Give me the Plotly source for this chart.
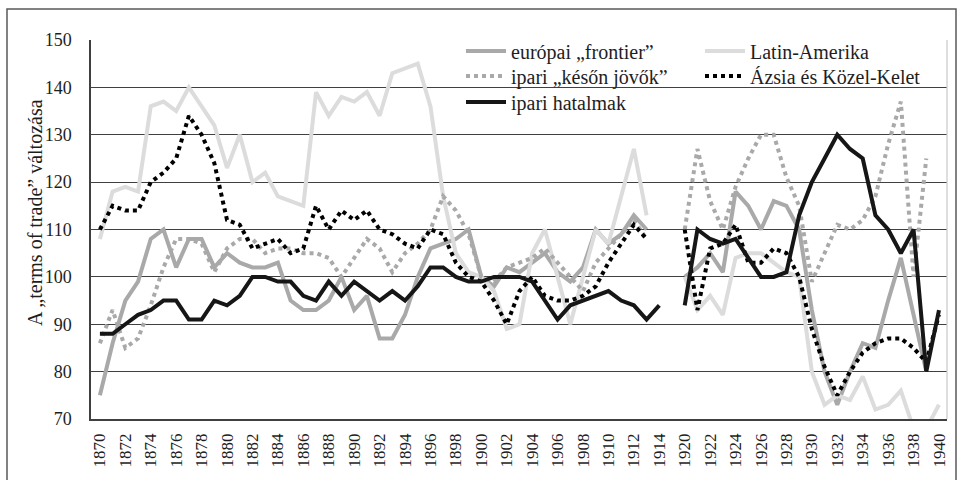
import plotly.graph_objects as go

# ---- categories ----
years_early = [str(y) for y in range(1870, 1915)]
gap_category = ["1915–1919"]
years_late = [str(y) for y in range(1920, 1941)]
categories = years_early + gap_category + years_late

tick_labels = ["1870", "1872", "1874", "1876", "1878", "1880", "1882", "1884", "1886",
               "1888", "1890", "1892", "1894", "1896", "1898", "1900", "1902", "1904",
               "1906", "1908", "1910", "1912", "1914", "1920", "1922", "1924", "1926",
               "1928", "1930", "1932", "1934", "1936", "1938", "1940"]

# ---- series values (1870-1914, then 1920-1940) ----
europai_early = [75, 86, 95, 99, 108, 110, 102, 108, 108, 102,
                 105, 103, 102, 102, 103, 95, 93, 93, 95, 100,
                 93, 96, 87, 87, 92, 100, 106, 107, 108, 110,
                 100, 98, 102, 101, 103, 105, 101, 99, 102, 110,
                 107, 109, 113, 110, None]
europai_late = [100, 102, 105, 101, 118, 115, 110, 116, 115, 110,
                93, 80, 73, 80, 86, 85, 95, 104, 92, 80, None]

latin_early = [108, 118, 119, 118, 136, 137, 135, 140, 136, 132,
               123, 130, 120, 122, 117, 116, 115, 139, 134, 138,
               137, 139, 134, 143, 144, 145, 136, 117, 105, 101,
               100, 97, 89, 90, 105, 110, 100, 90, 100, 110,
               107, 117, 127, 113, None]
latin_late = [100, 93, 96, 92, 104, 105, 105, 103, 101, 100,
              80, 73, 75, 74, 79, 72, 73, 76, 68, 68, 73]

keson_early = [86, 93, 85, 87, 94, 102, 108, 108, 107, 101,
               106, 108, 108, 105, 106, 106, 105, 105, 104, 100,
               104, 108, 106, 101, 105, 107, 110, 117, 114, 109,
               100, 99, 102, 103, 104, 106, 103, 100, 97, 103,
               106, 109, 112, 108, None]
keson_late = [110, 127, 116, 110, 119, 125, 130, 130, 121, 115,
              99, 105, 111, 110, 112, 117, 128, 137, 100, 125, None]

azsia_early = [110, 115, 114, 114, 120, 122, 125, 134, 130, 124,
               112, 111, 106, 107, 108, 105, 106, 115, 110, 114,
               112, 114, 110, 109, 107, 106, 110, 109, 103, 100,
               99, 95, 90, 97, 100, 96, 95, 95, 96, 98,
               103, 107, 111, 108, None]
azsia_late = [110, 93, 106, 107, 111, 103, 103, 106, 105, 100,
              89, 81, 75, 80, 84, 86, 87, 87, 85, 82, 92]

hatalmak_early = [88, 88, 90, 92, 93, 95, 95, 91, 91, 95,
                  94, 96, 100, 100, 99, 99, 96, 95, 99, 96,
                  99, 97, 95, 97, 95, 98, 102, 102, 100, 99,
                  99, 100, 100, 100, 99, 95, 91, 94, 95, 96,
                  97, 95, 94, 91, 94]
hatalmak_late = [94, 110, 108, 107, 108, 104, 100, 100, 101, 113,
                 120, 125, 130, 127, 125, 113, 110, 105, 110, 80, 93]

series = [
    ("európai „frontier”", europai_early, europai_late, "#a9a9a9", "solid"),
    ("Latin-Amerika", latin_early, latin_late, "#dcdcdc", "solid"),
    ("ipari „későn jövők”", keson_early, keson_late, "#a9a9a9", "dot"),
    ("Ázsia és Közel-Kelet", azsia_early, azsia_late, "#000000", "dot"),
    ("ipari hatalmak", hatalmak_early, hatalmak_late, "#161616", "solid"),
]

y_title = "A „terms of trade” változása"

FONT = "Liberation Serif"
# legend grid: (column left px, row centre px) for each series
legend_slots = [(461, 51), (700, 51), (461, 76), (700, 76), (461, 102)]
legend_ids = ["legend", "legend2", "legend3", "legend4", "legend5"]

fig = go.Figure()
for (name, early, late, color, dash), leg in zip(series, legend_ids):
    fig.add_trace(go.Scatter(
        x=categories, y=early + [None] + late, name=name, mode="lines",
        line=dict(color=color, width=4, dash=dash), legend=leg,
        connectgaps=False, hoverinfo="skip"))

PLOT_L, PLOT_T, PLOT_W, PLOT_H = 91, 40, 856, 379
legend_layout = {}
for leg, (lx, ly) in zip(legend_ids, legend_slots):
    legend_layout[leg] = dict(
        orientation="v", xanchor="left", yanchor="middle",
        x=(lx - PLOT_L) / PLOT_W, y=1 - (ly - PLOT_T) / PLOT_H,
        bgcolor="rgba(0,0,0,0)", itemwidth=40,
        font=dict(size=20, family=FONT, color="#1e1e1e"))

fig.update_layout(
    width=958, height=480,
    margin=dict(l=PLOT_L, r=958 - PLOT_L - PLOT_W, t=PLOT_T,
                b=480 - PLOT_T - PLOT_H, autoexpand=False),
    paper_bgcolor="white", plot_bgcolor="white",
    font=dict(family=FONT, color="#1e1e1e", size=18),
    showlegend=True,
    **legend_layout,
    xaxis=dict(type="category", categoryorder="array", categoryarray=categories,
               range=[-0.7, len(categories) - 0.37],
               tickmode="array", tickvals=tick_labels, ticktext=tick_labels,
               tickangle=-90, showgrid=False, showline=True, linecolor="#404040",
               linewidth=1.5, mirror=False, ticks="", ticklabelstandoff=6,
               tickfont=dict(size=17, family=FONT, color="#1e1e1e")),
    yaxis=dict(range=[70, 150], dtick=10, tick0=70, showgrid=True,
               gridcolor="#404040", gridwidth=1.2, showline=True,
               linecolor="#404040", linewidth=1.5, zeroline=False, ticks="",
               ticklabelstandoff=14,
               tickfont=dict(size=18, family=FONT, color="#1e1e1e")),
    annotations=[
        dict(text=y_title, xref="paper", yref="paper",
             x=(35 - PLOT_L) / PLOT_W, y=1 - (213 - PLOT_T) / PLOT_H,
             xanchor="center", yanchor="middle", textangle=-90, showarrow=False,
             font=dict(size=20, family=FONT, color="#1e1e1e")),
    ],
    shapes=[
        dict(type="line", xref="paper", yref="paper", x0=1, x1=1, y0=0, y1=1,
             line=dict(color="#c8c8c8", width=1.2)),
        dict(type="rect", xref="paper", yref="paper",
             x0=(7 - PLOT_L) / PLOT_W, x1=(956 - PLOT_L) / PLOT_W,
             y0=-(481 - PLOT_T - PLOT_H) / PLOT_H, y1=1 + (PLOT_T - 9) / PLOT_H,
             line=dict(color="#595959", width=1.5)),
    ],
)

fig.write_html("out.html", config={"displayModeBar": False},
               post_script="document.body.style.margin='0';document.body.style.padding='0';")
